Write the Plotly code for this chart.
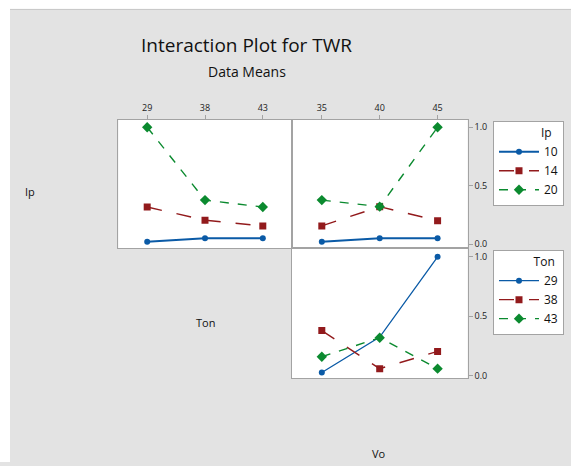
import plotly.graph_objects as go

# ---- data ----
ton_levels = ["29", "38", "43"]
vo_levels = ["35", "40", "45"]
ip_levels = ["10", "14", "20"]

# Ip x Ton means (rows: Ip levels)
ip_ton = {
    "10": [0.02, 0.05, 0.05],
    "14": [0.317, 0.204, 0.155],
    "20": [1.00, 0.376, 0.317],
}
# Ip x Vo means
ip_vo = {
    "10": [0.02, 0.05, 0.05],
    "14": [0.155, 0.32, 0.20],
    "20": [0.376, 0.32, 1.00],
}
# Ton x Vo means (rows: Ton levels)
ton_vo = {
    "29": [0.028, 0.325, 1.00],
    "38": [0.38, 0.06, 0.205],
    "43": [0.16, 0.32, 0.06],
}
y_ticks = [0.0, 0.5, 1.0]
y_tick_text = ["0.0", "0.5", "1.0"]

# ---- styles ----
W, H = 571, 466
blue, red, green = "#0a5aa6", "#921a1c", "#0b8a2f"
styles = [
    dict(color=blue, dash="solid", width=2.0, symbol="circle", msize=6),
    dict(color=red, dash="longdash", width=1.4, symbol="square", msize=7),
    dict(color=green, dash="dash", width=1.4, symbol="diamond", msize=8),
]
FONT = "Open Sans"
frame = "#a3a3a3"

def px_x(p):
    return p / W

def px_y(p):
    return 1 - p / H

fig = go.Figure()

idx = [0, 1, 2]
for k, lv in enumerate(ip_levels):
    s = styles[k]
    fig.add_trace(go.Scatter(
        x=idx, y=ip_ton[lv], mode="lines+markers", name=lv,
        legendgroup="ip" + lv, legend="legend", showlegend=True,
        line=dict(color=s["color"], dash=s["dash"], width=s["width"]),
        marker=dict(symbol=s["symbol"], size=s["msize"], color=s["color"]),
        xaxis="x", yaxis="y"))
    fig.add_trace(go.Scatter(
        x=idx, y=ip_vo[lv], mode="lines+markers", name=lv,
        legendgroup="ip" + lv, legend="legend", showlegend=False,
        line=dict(color=s["color"], dash=s["dash"], width=s["width"]),
        marker=dict(symbol=s["symbol"], size=s["msize"], color=s["color"]),
        xaxis="x2", yaxis="y2"))

for k, lv in enumerate(ton_levels):
    s = styles[k]
    w = 1.3 if k == 0 else s["width"]
    fig.add_trace(go.Scatter(
        x=idx, y=ton_vo[lv], mode="lines+markers", name=lv,
        legendgroup="ton" + lv, legend="legend2", showlegend=True,
        line=dict(color=s["color"], dash=s["dash"], width=w),
        marker=dict(symbol=s["symbol"], size=s["msize"], color=s["color"]),
        xaxis="x3", yaxis="y3"))

xd1 = [px_x(118.3), px_x(291.7)]
xd2 = [px_x(291.7), px_x(467.7)]
yd12 = [px_y(250.5), px_y(120.7)]
yd3 = [px_y(381.7), px_y(250.5)]

axis_common = dict(showline=True, linecolor=frame, linewidth=1, mirror=True,
                   showgrid=False, zeroline=False, fixedrange=True,
                   tickfont=dict(family=FONT, size=9, color="#222"),
                   tickcolor=frame, ticklen=4)

fig.update_layout(
    xaxis=dict(domain=xd1, anchor="y", range=[-0.5, 2.5], side="top",
               tickmode="array", tickvals=idx, ticktext=ton_levels,
               ticks="outside", **axis_common),
    yaxis=dict(domain=yd12, anchor="x", range=[-0.037, 1.065],
               showticklabels=False, ticks="", **axis_common),
    xaxis2=dict(domain=xd2, anchor="y2", range=[-0.52, 2.52], side="top",
                tickmode="array", tickvals=idx, ticktext=vo_levels,
                ticks="outside", **axis_common),
    yaxis2=dict(domain=yd12, anchor="x2", range=[-0.037, 1.065], side="right",
                tickmode="array", tickvals=y_ticks, ticktext=y_tick_text,
                ticks="outside", **axis_common),
    xaxis3=dict(domain=xd2, anchor="y3", range=[-0.52, 2.52],
                showticklabels=False, ticks="", **axis_common),
    yaxis3=dict(domain=yd3, anchor="x3", range=[-0.022, 1.071], side="right",
                tickmode="array", tickvals=y_ticks, ticktext=y_tick_text,
                ticks="outside", **axis_common),
)

legend_common = dict(bgcolor="white", bordercolor=frame, borderwidth=1,
                     font=dict(family=FONT, size=12, color="#111"),
                     xanchor="left", yanchor="top", itemwidth=40,
                     tracegroupgap=0)
fig.update_layout(
    legend=dict(x=px_x(493), y=px_y(121.7),
                title=dict(text="Ip\u00a0\u00a0\u00a0", side="top right",
                           font=dict(family=FONT, size=12, color="#111")),
                **legend_common),
    legend2=dict(x=px_x(493), y=px_y(251.7),
                 title=dict(text="Ton\u00a0\u00a0", side="top right",
                            font=dict(family=FONT, size=12, color="#111")),
                 **legend_common),
)

annotations = [
    dict(text="Interaction Plot for TWR", x=px_x(246), y=px_y(45),
         font=dict(family=FONT, size=19, color="#111")),
    dict(text="Data Means", x=px_x(247), y=px_y(72),
         font=dict(family=FONT, size=14, color="#111")),
    dict(text="Ip", x=px_x(30), y=px_y(193),
         font=dict(family=FONT, size=11, color="#111")),
    dict(text="Ton", x=px_x(205), y=px_y(325),
         font=dict(family=FONT, size=11, color="#111")),
    dict(text="Vo", x=px_x(379), y=px_y(457),
         font=dict(family=FONT, size=11, color="#111")),
]
for a in annotations:
    a.update(xref="paper", yref="paper", showarrow=False,
             xanchor="center", yanchor="middle")

shapes = [
    dict(type="rect", xref="paper", yref="paper", x0=0, x1=px_x(10), y0=0, y1=1,
         fillcolor="white", line=dict(width=0), layer="above"),
    dict(type="rect", xref="paper", yref="paper", x0=0, x1=1, y0=px_y(9), y1=1,
         fillcolor="white", line=dict(width=0), layer="above"),
    dict(type="line", xref="paper", yref="paper", x0=px_x(10), x1=1,
         y0=px_y(9.5), y1=px_y(9.5), line=dict(color="#c6c6c6", width=1)),
]

fig.update_layout(
    width=W, height=H, autosize=False,
    margin=dict(l=0, r=0, t=0, b=0),
    paper_bgcolor="#e3e3e3", plot_bgcolor="white",
    annotations=annotations, shapes=shapes,
    font=dict(family=FONT),
)

fig.write_html("out.html", post_script="document.body.style.margin='0';",
               config={"displayModeBar": False})
